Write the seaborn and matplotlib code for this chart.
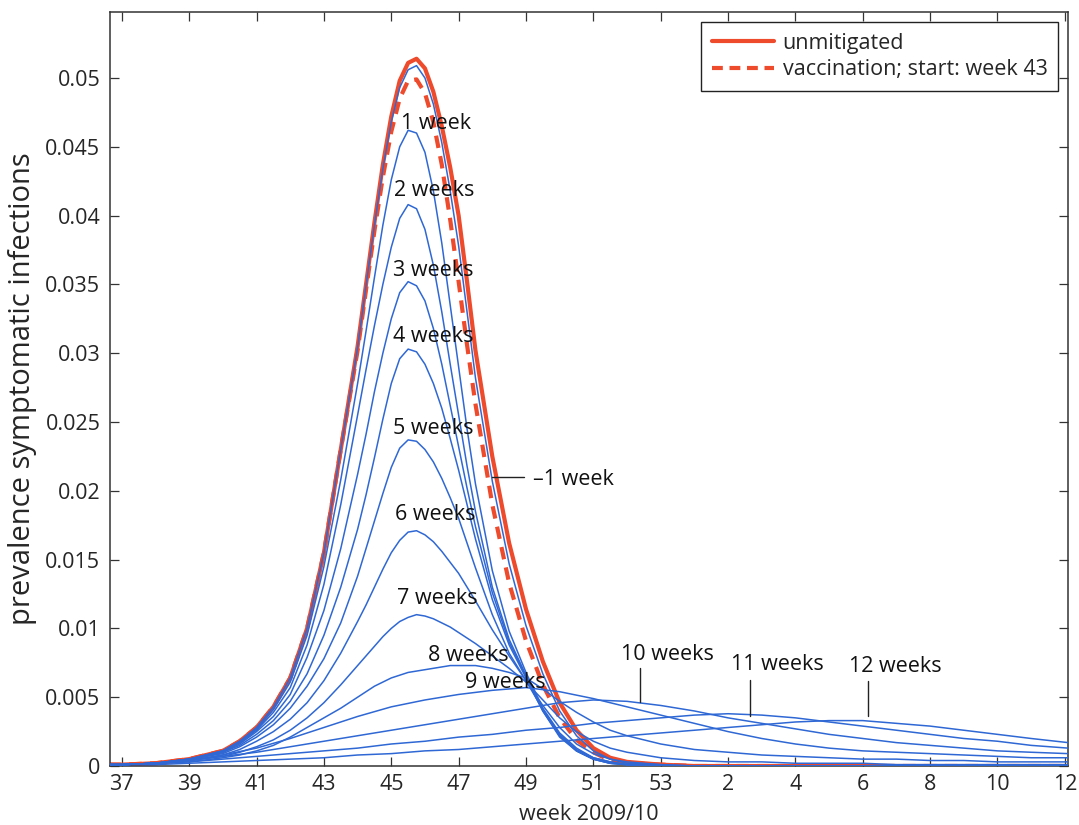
import numpy as np
import pandas as pd
import matplotlib
matplotlib.use("Agg")
import matplotlib.pyplot as plt
from matplotlib.lines import Line2D
import seaborn as sns

# ---- week axis (continuous index: weeks 37..53 of 2009, then 54 = week 1 of 2010) ----
weeks_fine = [36.6, 37, 38, 39, 40, 40.5,
              41, 41.5, 42, 42.5, 43, 43.5, 44,
              44.25, 44.5, 44.75, 45, 45.25, 45.5, 45.75, 46, 46.25, 46.5, 46.75, 47, 47.25, 47.5,
              48, 48.5, 49, 49.5, 50, 50.5, 51, 51.5, 52,
              53, 54, 55, 56, 57, 58, 59, 60, 61, 62, 63, 64, 65.1]
weeks_coarse = [36.6, 37, 38, 39, 40, 41, 42, 43, 44, 45, 46, 47, 48, 49, 50, 51,
                52, 53, 54, 55, 56, 57, 58, 59, 60, 61, 62, 63, 64, 65.1]

# ---- prevalence of symptomatic infections ----
unmitigated = [0.0001, 0.0001, 0.0002, 0.0005, 0.0011, 0.0018,
               0.0028, 0.0043, 0.0064, 0.0100, 0.0155, 0.0230, 0.0305,
               0.0350, 0.0395, 0.0437, 0.0472, 0.0498, 0.0511, 0.0514, 0.0507, 0.0490,
               0.0465, 0.0435, 0.0400, 0.0352, 0.0302,
               0.0225, 0.0162, 0.0114, 0.0076, 0.0046, 0.0026, 0.0013, 0.0006, 0.0003,
               0.0001, 0, 0, 0, 0, 0, 0, 0, 0, 0, 0, 0, 0]
vacc_week43 = [0.0001, 0.0001, 0.0002, 0.0005, 0.0011, 0.0018,
               0.0028, 0.0043, 0.0064, 0.0100, 0.0155, 0.0230, 0.0302,
               0.0346, 0.0389, 0.0428, 0.0461, 0.0485, 0.0498, 0.0499, 0.0489, 0.0468,
               0.0437, 0.0397, 0.0352, 0.0306, 0.0263,
               0.0190, 0.0133, 0.0091, 0.0059, 0.0035, 0.0019, 0.0010, 0.0004, 0.0002,
               0.0001, 0, 0, 0, 0, 0, 0, 0, 0, 0, 0, 0, 0]
minus1_week = [0.0001, 0.0001, 0.0002, 0.0005, 0.0011, 0.0018,
               0.0028, 0.0043, 0.0064, 0.0100, 0.0155, 0.0230, 0.0304,
               0.0349, 0.0393, 0.0434, 0.0468, 0.0493, 0.0506, 0.0509, 0.0500, 0.0481,
               0.0453, 0.0418, 0.0378, 0.0330, 0.0282,
               0.0207, 0.0147, 0.0102, 0.0067, 0.0040, 0.0022, 0.0011, 0.0005, 0.0002,
               0.0001, 0, 0, 0, 0, 0, 0, 0, 0, 0, 0, 0, 0]
week1 = [0.0001, 0.0001, 0.0002, 0.0005, 0.0011, 0.0018,
         0.0027, 0.0041, 0.0061, 0.0095, 0.0145, 0.0208, 0.0278,
         0.0316, 0.0355, 0.0393, 0.0426, 0.0450, 0.0462, 0.0460, 0.0446, 0.0418,
         0.0380, 0.0335, 0.0290, 0.0245, 0.0205,
         0.0142, 0.0098, 0.0068, 0.0042, 0.0024, 0.0013, 0.0006, 0.0003, 0.0001,
         0, 0, 0, 0, 0, 0, 0, 0, 0, 0, 0, 0, 0]
week2 = [0.0001, 0.0001, 0.0002, 0.0005, 0.0011, 0.0017,
         0.0026, 0.0039, 0.0057, 0.0088, 0.0132, 0.0190, 0.0255,
         0.0288, 0.0320, 0.0350, 0.0377, 0.0398, 0.0408, 0.0405, 0.0390, 0.0364,
         0.0330, 0.0292, 0.0255, 0.0218, 0.0185,
         0.0130, 0.0092, 0.0066, 0.0041, 0.0022, 0.0011, 0.0005, 0.0002, 0.0001,
         0, 0, 0, 0, 0, 0, 0, 0, 0, 0, 0, 0, 0]
week3 = [0.0001, 0.0001, 0.0002, 0.0005, 0.0010, 0.0016,
         0.0025, 0.0036, 0.0052, 0.0079, 0.0113, 0.0158, 0.0212,
         0.0241, 0.0272, 0.0300, 0.0325, 0.0344, 0.0352, 0.0349, 0.0338, 0.0318,
         0.0292, 0.0262, 0.0232, 0.0202, 0.0174,
         0.0126, 0.0090, 0.0065, 0.0040, 0.0021, 0.0011, 0.0005, 0.0002, 0.0001,
         0, 0, 0, 0, 0, 0, 0, 0, 0, 0, 0, 0, 0]
week4 = [0.0001, 0.0001, 0.0002, 0.0005, 0.0010, 0.0015,
         0.0023, 0.0033, 0.0047, 0.0067, 0.0095, 0.0130, 0.0172,
         0.0197, 0.0224, 0.0252, 0.0278, 0.0296, 0.0303, 0.0301, 0.0292, 0.0278,
         0.0260, 0.0238, 0.0215, 0.0190, 0.0165,
         0.0121, 0.0088, 0.0064, 0.0040, 0.0022, 0.0011, 0.0005, 0.0002, 0.0001,
         0, 0, 0, 0, 0, 0, 0, 0, 0, 0, 0, 0, 0]
week5 = [0.0001, 0.0001, 0.0002, 0.0005, 0.0009, 0.0014,
         0.0021, 0.0030, 0.0042, 0.0058, 0.0078, 0.0104, 0.0138,
         0.0158, 0.0178, 0.0198, 0.0217, 0.0231, 0.0237, 0.0236, 0.0230, 0.0221,
         0.0209, 0.0195, 0.0180, 0.0162, 0.0144,
         0.0110, 0.0082, 0.0062, 0.0041, 0.0023, 0.0012, 0.0006, 0.0003, 0.0001,
         0, 0, 0, 0, 0, 0, 0, 0, 0, 0, 0, 0, 0]
week6 = [0.0001, 0.0001, 0.0002, 0.0004, 0.0008, 0.0012,
         0.0018, 0.0025, 0.0034, 0.0046, 0.0062, 0.0082, 0.0105,
         0.0117, 0.0130, 0.0143, 0.0155, 0.0164, 0.0170, 0.0171, 0.0168, 0.0163,
         0.0156, 0.0148, 0.0140, 0.0130, 0.0120,
         0.0099, 0.0080, 0.0062, 0.0044, 0.0028, 0.0016, 0.0009, 0.0005, 0.0003,
         0.0001, 0, 0, 0, 0, 0, 0, 0, 0, 0, 0, 0, 0]
week7 = [0.0001, 0.0001, 0.0002, 0.0004, 0.0007, 0.0010,
         0.0014, 0.0019, 0.0026, 0.0035, 0.0046, 0.0059, 0.0073,
         0.0080, 0.0087, 0.0094, 0.0100, 0.0105, 0.0108, 0.0110, 0.0109, 0.0107,
         0.0104, 0.0101, 0.0097, 0.0093, 0.0089,
         0.0080, 0.0071, 0.0061, 0.0048, 0.0035, 0.0025, 0.0018, 0.0013, 0.0010,
         0.0006, 0.0004, 0.0003, 0.0003, 0.0002, 0.0002, 0.0002, 0.0001, 0.0001,
         0.0001, 0.0001, 0.0001, 0.0001]
week8 = [0.0001, 0.0001, 0.0002, 0.0003, 0.0006, 0.0008,
         0.0011, 0.0015, 0.0021, 0.0028, 0.0035, 0.0042, 0.0050,
         0.0054, 0.0058, 0.0061, 0.0064, 0.0066, 0.0068, 0.0069, 0.0070, 0.0071,
         0.0072, 0.0073, 0.0073, 0.0073, 0.0073,
         0.0071, 0.0068, 0.0064, 0.0056, 0.0047, 0.0039, 0.0032, 0.0026, 0.0022,
         0.0016, 0.0012, 0.0010, 0.0008, 0.0007, 0.0006, 0.0005, 0.0005, 0.0004,
         0.0004, 0.0003, 0.0003, 0.0003]
week9 = [0.0001, 0.0001, 0.0002, 0.0004, 0.0008, 0.0013, 0.0020, 0.0028, 0.0036, 0.0043,
         0.0048, 0.0052, 0.0055, 0.0057, 0.0054, 0.0049, 0.0043, 0.0037, 0.0031, 0.0025,
         0.0020, 0.0016, 0.0013, 0.0011, 0.0010, 0.0009, 0.0008, 0.0007, 0.0006, 0.0006]
week10 = [0.0001, 0.0001, 0.0002, 0.0004, 0.0007, 0.0010, 0.0014, 0.0018, 0.0022, 0.0026,
          0.0030, 0.0034, 0.0038, 0.0042, 0.0046, 0.0048, 0.0047, 0.0044, 0.0040, 0.0035,
          0.0031, 0.0027, 0.0023, 0.0020, 0.0017, 0.0015, 0.0013, 0.0011, 0.0010, 0.0009]
week11 = [0.0001, 0.0001, 0.0002, 0.0003, 0.0005, 0.0007, 0.0009, 0.0011, 0.0013, 0.0016,
          0.0018, 0.0021, 0.0023, 0.0026, 0.0028, 0.0031, 0.0033, 0.0035, 0.0037, 0.0038,
          0.0037, 0.0035, 0.0032, 0.0029, 0.0026, 0.0023, 0.0020, 0.0018, 0.0015, 0.0013]
week12 = [0.0001, 0.0001, 0.0001, 0.0002, 0.0003, 0.0004, 0.0005, 0.0006, 0.0008, 0.0009,
          0.0011, 0.0012, 0.0014, 0.0016, 0.0018, 0.0020, 0.0022, 0.0024, 0.0026, 0.0028,
          0.0030, 0.0032, 0.0033, 0.0033, 0.0031, 0.0029, 0.0026, 0.0023, 0.0020, 0.0017]

# ---- tick labels ----
xtick_pos = [37, 39, 41, 43, 45, 47, 49, 51, 53, 55, 57, 59, 61, 63, 65]
xtick_labels = ["37", "39", "41", "43", "45", "47", "49", "51", "53",
                "2", "4", "6", "8", "10", "12"]
ytick_pos = [0, 0.005, 0.01, 0.015, 0.02, 0.025, 0.03, 0.035, 0.04, 0.045, 0.05]
ytick_labels = ["0", "0.005", "0.01", "0.015", "0.02", "0.025", "0.03", "0.035",
                "0.04", "0.045", "0.05"]

# ---- curve annotations ----
peak_labels = ["1 week", "2 weeks", "3 weeks", "4 weeks", "5 weeks", "6 weeks",
               "7 weeks", "8 weeks", "9 weeks"]
peak_label_x = [46.34, 46.26, 46.26, 46.26, 46.26, 46.3, 46.37, 47.3, 48.39]
peak_label_y = [0.0467, 0.0418, 0.0360, 0.0312, 0.0245, 0.0183, 0.0122, 0.0080, 0.0061]
tail_labels = ["10 weeks", "11 weeks", "12 weeks"]
tail_label_x = [53.2, 56.46, 59.96]
tail_label_y = [0.0081, 0.0074, 0.0072]
tail_leader_x = [52.40, 55.66, 59.16]
tail_leader_top = [0.00715, 0.00625, 0.00615]
tail_leader_bottom = [0.00466, 0.00364, 0.00364]

RED = "#ee4a2c"
BLUE = "#2f68d4"
FONT = ["Open Sans", "DejaVu Sans"]

sns.set_style("ticks")
plt.rcParams["font.family"] = FONT
plt.rcParams["font.size"] = 15.5

blue_sets = [("-1 week", weeks_fine, minus1_week), ("1 week", weeks_fine, week1),
             ("2 weeks", weeks_fine, week2), ("3 weeks", weeks_fine, week3),
             ("4 weeks", weeks_fine, week4), ("5 weeks", weeks_fine, week5),
             ("6 weeks", weeks_fine, week6), ("7 weeks", weeks_fine, week7),
             ("8 weeks", weeks_fine, week8), ("9 weeks", weeks_coarse, week9),
             ("10 weeks", weeks_coarse, week10), ("11 weeks", weeks_coarse, week11),
             ("12 weeks", weeks_coarse, week12)]
blue_df = pd.concat([pd.DataFrame({"week": w, "prevalence": v, "scenario": name})
                     for name, w, v in blue_sets], ignore_index=True)

fig = plt.figure(figsize=(10.79, 8.25), dpi=100)
ax = fig.add_axes([0.102, 0.0715, 0.888, 0.914])

sns.lineplot(x=weeks_fine, y=unmitigated, ax=ax, color=RED, lw=3.0,
             estimator=None, sort=False, zorder=2)
sns.lineplot(x=weeks_fine, y=vacc_week43, ax=ax, color=RED, lw=3.0,
             linestyle=(0, (3.0, 2.0)), estimator=None, sort=False, zorder=2)
sns.lineplot(data=blue_df, x="week", y="prevalence", units="scenario",
             estimator=None, sort=False, color=BLUE, lw=1.1, ax=ax, zorder=3)

ax.set_xlim(36.65, 65.1)
ax.set_ylim(0, 0.0548)
ax.set_xticks(xtick_pos)
ax.set_xticklabels(xtick_labels)
ax.set_yticks(ytick_pos)
ax.set_yticklabels(ytick_labels)
ax.tick_params(direction="in", length=6.5, width=0.9, color="#333333",
               top=True, right=True, labelsize=15.5, pad=6)
ax.tick_params(axis="y", pad=7)
for sp in ax.spines.values():
    sp.set_visible(True)
    sp.set_color("#333333")
    sp.set_linewidth(1.1)

ax.set_xlabel("week 2009/10", fontsize=15.5, labelpad=6)
ax.set_ylabel("prevalence symptomatic infections", fontsize=21, labelpad=6)

for t, x, y in zip(peak_labels, peak_label_x, peak_label_y):
    ax.text(x, y, t, ha="center", va="center", fontsize=15.5, color="#111111", zorder=5)
for t, x, y in zip(tail_labels, tail_label_x, tail_label_y):
    ax.text(x, y, t, ha="center", va="center", fontsize=15.5, color="#111111", zorder=5)
for x, y0, y1 in zip(tail_leader_x, tail_leader_top, tail_leader_bottom):
    ax.plot([x, x], [y0, y1], color="#222222", lw=1.0, zorder=5)

# leader for the -1 week curve
ax.plot([47.98, 48.95], [0.021, 0.021], color="#222222", lw=1.0, zorder=5)
ax.text(49.2, 0.0208, "\u20131 week", ha="left", va="center", fontsize=15.5,
        color="#111111", zorder=5)

handles = [Line2D([], [], color=RED, lw=3.0),
           Line2D([], [], color=RED, lw=3.0, linestyle=(0, (2.6, 1.6)))]
leg = ax.legend(handles, ["unmitigated", "vaccination; start: week 43"],
                loc="upper right", bbox_to_anchor=(0.9896, 0.9867), borderaxespad=0,
                fontsize=15.5, handlelength=2.9, handletextpad=0.4,
                labelspacing=0.25, borderpad=0.5, fancybox=False, framealpha=1)
leg.get_frame().set_edgecolor("#222222")
leg.get_frame().set_linewidth(1.0)

fig.savefig("out.png", dpi=100, facecolor="white")
